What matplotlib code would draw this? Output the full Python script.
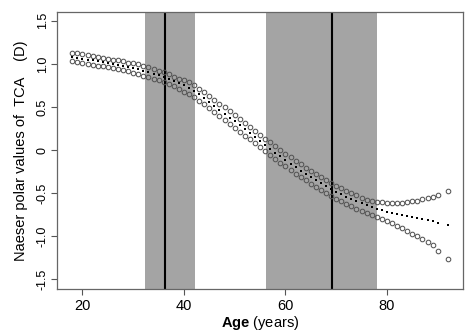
import numpy as np
import matplotlib
matplotlib.use("Agg")
import matplotlib.pyplot as plt

# -----------------------------
# data
# -----------------------------
ages = list(range(18, 91)) + [92]

tca_mid = [
    1.080, 1.070, 1.060, 1.050, 1.040, 1.030, 1.020, 1.010, 1.000, 0.990,
    0.978, 0.965, 0.952, 0.938, 0.922, 0.905, 0.887, 0.867, 0.845, 0.822,
    0.798, 0.774, 0.749, 0.720, 0.686, 0.646, 0.602, 0.557, 0.512, 0.467,
    0.422, 0.377, 0.332, 0.287, 0.242, 0.197, 0.152, 0.107, 0.062, 0.017,
    -0.028, -0.072, -0.115, -0.157, -0.198, -0.238, -0.277, -0.314, -0.350, -0.385,
    -0.419, -0.452, -0.484, -0.514, -0.542, -0.568, -0.592, -0.615, -0.638, -0.660,
    -0.680, -0.698, -0.714, -0.728, -0.741, -0.753, -0.764, -0.775, -0.786, -0.797,
    -0.809, -0.823, -0.840, -0.870,
]

tca_upper = [
    1.130, 1.120, 1.110, 1.100, 1.090, 1.080, 1.070, 1.060, 1.050, 1.040,
    1.028, 1.015, 1.007, 0.993, 0.977, 0.960, 0.942, 0.922, 0.900, 0.877,
    0.853, 0.829, 0.816, 0.787, 0.753, 0.713, 0.669, 0.624, 0.584, 0.539,
    0.494, 0.449, 0.404, 0.359, 0.314, 0.269, 0.224, 0.179, 0.134, 0.089,
    0.044, 0.000, -0.043, -0.085, -0.126, -0.166, -0.205, -0.242, -0.278, -0.313,
    -0.347, -0.380, -0.412, -0.442, -0.470, -0.497, -0.522, -0.555, -0.575, -0.590,
    -0.600, -0.605, -0.610, -0.612, -0.612, -0.608, -0.602, -0.595, -0.585, -0.572,
    -0.558, -0.540, -0.518, -0.478,
]

tca_lower = [
    1.030, 1.020, 1.010, 1.000, 0.990, 0.980, 0.970, 0.960, 0.950, 0.940,
    0.928, 0.915, 0.892, 0.878, 0.862, 0.845, 0.827, 0.807, 0.785, 0.762,
    0.738, 0.714, 0.677, 0.648, 0.614, 0.574, 0.530, 0.485, 0.438, 0.393,
    0.348, 0.303, 0.258, 0.213, 0.168, 0.123, 0.078, 0.033, -0.012, -0.057,
    -0.102, -0.146, -0.189, -0.231, -0.272, -0.312, -0.351, -0.390, -0.427, -0.463,
    -0.498, -0.531, -0.565, -0.593, -0.624, -0.653, -0.680, -0.708, -0.730, -0.752,
    -0.775, -0.800, -0.822, -0.848, -0.876, -0.905, -0.936, -0.967, -0.998, -1.030,
    -1.063, -1.105, -1.170, -1.262,
]

# shaded age ranges and their marker lines
bands = [(32.4, 42.2), (56.1, 78.0)]
band_lines = [36.3, 69.2]

yticks = [1.5, 1.0, 0.5, 0, -0.5, -1.0, -1.5]
ytick_labels = ["1.5", "1.0", "0.5", "0", "-0.5", "-1.0", "-1.5"]
xticks = [20, 40, 60, 80]

# -----------------------------
# plot
# -----------------------------
plt.rcParams["font.family"] = ["Liberation Sans", "DejaVu Sans"]
plt.rcParams["mathtext.fontset"] = "custom"
plt.rcParams["mathtext.bf"] = "Liberation Sans:bold"
plt.rcParams["mathtext.rm"] = "Liberation Sans"

fig = plt.figure(figsize=(4.72, 3.36), dpi=100)
ax = fig.add_axes([0.121, 0.140, 0.860, 0.824])

for lo, hi in bands:
    ax.axvspan(lo, hi, color="#a4a4a4", lw=0, zorder=0)
for xv in band_lines:
    ax.axvline(xv, color="black", lw=1.5, zorder=1)

ax.plot(ages, tca_upper, "o", ms=3.3, mfc="none", mec="#555555", mew=0.75, zorder=2)
ax.plot(ages, tca_lower, "o", ms=3.3, mfc="none", mec="#555555", mew=0.75, zorder=2)
ax.plot(ages, tca_mid, "s", ms=2.1, color="black", mew=0, zorder=3)

ax.set_xlim(15.0, 95.0)
ax.set_ylim(-1.61, 1.6)

ax.set_xticks(xticks)
ax.set_xticklabels([str(t) for t in xticks], fontsize=10.5)
ax.set_yticks(yticks)
ax.set_yticklabels(ytick_labels, fontsize=9, rotation=90, va="center")

ax.tick_params(axis="both", length=4, width=0.8, color="#555555", pad=2)
ax.tick_params(axis="x", pad=3)
for sp in ax.spines.values():
    sp.set_color("#666666")
    sp.set_linewidth(0.9)

ax.set_ylabel("Naeser polar values of  TCA    (D)", fontsize=10.5, labelpad=6)
ax.set_xlabel(r"$\bf{Age}$ (years)", fontsize=10.5, labelpad=1)

fig.savefig("out.png", dpi=100)
